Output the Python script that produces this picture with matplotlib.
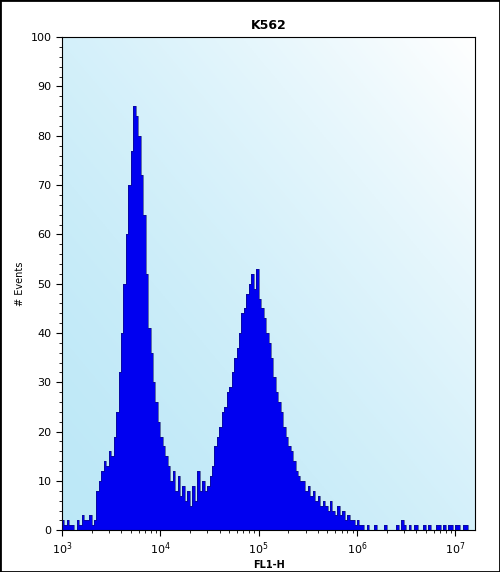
import matplotlib
import numpy as np

matplotlib.use("Agg")
import matplotlib.pyplot as plt
from matplotlib.ticker import LogLocator, MultipleLocator

# histogram counts, bins of 0.025 decade starting at 10^3
BIN_START_LOG = 3.0
BIN_WIDTH_LOG = 0.025
counts = [
    2, 1, 2, 1, 1, 0, 2, 1, 3, 2, 2, 3, 1, 2,
    8, 10, 12, 14, 13, 16, 15, 19, 24, 32, 40, 50, 60, 70, 77, 86,
    84, 80, 72, 64, 52, 41, 36, 30, 26, 22, 19, 17, 15, 13, 10, 12,
    8, 11, 7, 9, 6, 8, 5, 9, 6, 12, 8, 10, 8, 9, 11, 13,
    17, 19, 21, 24, 25, 28, 29, 32, 35, 37, 40, 44, 45, 48, 50, 52,
    49, 53, 47, 45, 43, 40, 38, 35, 31, 28, 26, 24, 21, 19, 17, 16,
    14, 12, 11, 10, 10, 8, 9, 7, 8, 6, 7, 5, 6, 5, 4, 6,
    4, 3, 5, 3, 4, 2, 3, 2, 2, 1, 2, 1, 1, 0, 1, 0,
    0, 1, 0, 0, 0, 1, 0, 0, 0, 0, 1, 0, 2, 1, 0, 1,
    0, 1, 1, 0, 0, 1, 0, 1, 0, 0, 1, 1, 0, 1, 0, 1,
    1, 0, 1, 1, 0, 1, 1, 0,
]
TITLE = "K562"
X_LABEL = "FL1-H"
Y_LABEL = "# Events"

edges = 10 ** (BIN_START_LOG + BIN_WIDTH_LOG * np.arange(len(counts) + 1))

fig = plt.figure(figsize=(5.0, 5.72), dpi=100, facecolor="white")
ax = fig.add_axes([0.124, 0.073, 0.826, 0.862])

# light blue gradient background, white toward the top right
gx, gy = np.meshgrid(np.linspace(0, 1, 200), np.linspace(0, 1, 200))
g = np.clip((gx + gy) / 2.0, 0, 1) ** 1.5
low = np.array([0.74, 0.91, 0.97])
high = np.array([1.0, 1.0, 1.0])
img = low[None, None, :] * (1 - g[..., None]) + high[None, None, :] * g[..., None]
ax.imshow(img, extent=[0, 1, 0, 1], origin="lower", transform=ax.transAxes,
          aspect="auto", zorder=0)

ax.stairs(counts, edges, fill=True, color="#0000f0", zorder=2)
ax.stairs(counts, edges, color="#10106a", lw=0.4, zorder=3)

ax.set_xscale("log")
ax.set_xlim(1e3, 10 ** 7.2)
ax.set_ylim(0, 100)
ax.yaxis.set_major_locator(MultipleLocator(10))
ax.yaxis.set_minor_locator(MultipleLocator(2))
ax.xaxis.set_major_locator(LogLocator(base=10, numticks=10))
ax.xaxis.set_minor_locator(LogLocator(base=10, subs=np.arange(2, 10), numticks=20))
ax.tick_params(axis="both", which="major", labelsize=8, length=4, direction="out")
ax.tick_params(axis="both", which="minor", length=2, direction="out")
for spine in ax.spines.values():
    spine.set_linewidth(0.8)

ax.set_title(TITLE, fontsize=9, fontweight="bold", pad=6)
ax.set_xlabel(X_LABEL, fontsize=7, fontweight="bold", labelpad=2)
ax.set_ylabel(Y_LABEL, fontsize=7, labelpad=4)

fig.patches.append(plt.Rectangle((0, 0), 1, 1, transform=fig.transFigure,
                                 fill=False, edgecolor="black", lw=2))

fig.savefig("out.png", dpi=100, facecolor="white")
